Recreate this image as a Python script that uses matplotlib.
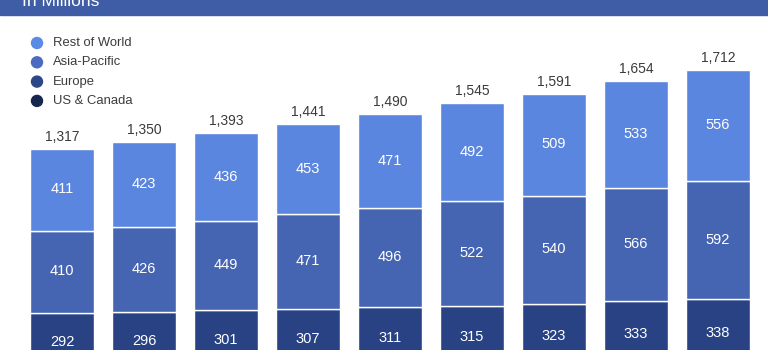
import matplotlib
matplotlib.use('Agg')
import matplotlib.pyplot as pyplot
from matplotlib.patches import Rectangle, Ellipse

pyplot.rcParams['font.family'] = ['Liberation Sans', 'DejaVu Sans']

# ------------------------------------------------------------------------------
# Data (monthly active users, in millions)
#
quarters = ['Q2\'14', 'Q3\'14', 'Q4\'14', 'Q1\'15', 'Q2\'15',
            'Q3\'15', 'Q4\'15', 'Q1\'16', 'Q2\'16']
us_canada = [204, 205, 207, 210, 212, 216, 219, 222, 226]
europe = [292, 296, 301, 307, 311, 315, 323, 333, 338]
asia_pacific = [410, 426, 449, 471, 496, 522, 540, 566, 592]
rest_of_world = [411, 423, 436, 453, 471, 492, 509, 533, 556]
totals = [1317, 1350, 1393, 1441, 1490, 1545, 1591, 1654, 1712]

series_names = ['Rest of World', 'Asia-Pacific', 'Europe', 'US & Canada']
bar_colors = ['#5b86e0', '#4565b3', '#284284', '#1b2b5b']
legend_colors = ['#5a8ae6', '#4b6ac0', '#2b4788', '#17264f']

y_bottom = 310        # value at the lower edge of the (cropped) picture
figure = pyplot.figure(figsize=(7.68, 3.5), dpi=100)
axes = figure.add_axes([0, 0, 1, 1])
axes.set_xlim(-0.756, 8.61)
axes.set_ylim(y_bottom, 2060)
axes.axis('off')

# ------------------------------------------------------------------------------
# Stacked bars
#
positions = list(range(len(quarters)))
stack = [us_canada, europe, asia_pacific, rest_of_world]
stack_colors = [bar_colors[3], bar_colors[2], bar_colors[1], bar_colors[0]]
bottoms = [0] * len(quarters)
for values, color in zip(stack, stack_colors):
    axes.bar(positions, values, bottom=bottoms, width=0.78, color=color,
             edgecolor='white', linewidth=1.0)
    for index, value in enumerate(values):
        label_y = max(bottoms[index] + value / 2 + 2, y_bottom + 42)
        if label_y > bottoms[index] + value:
            continue
        axes.text(positions[index], label_y, str(value),
                  ha='center', va='center', color='white', fontsize=10.5)
    bottoms = [b + v for b, v in zip(bottoms, values)]

for index, total in enumerate(totals):
    axes.text(positions[index], total + 40, '{:,}'.format(total),
              ha='center', va='baseline', color='#3a3a3a', fontsize=10)

# ------------------------------------------------------------------------------
# Banner
#
figure.patches.append(Rectangle((0, 1 - 15 / 350), 1, 15 / 350,
                                transform=figure.transFigure,
                                color='#3f5ca6', zorder=5))
figure.text(22 / 768, 1 - 6 / 350, 'In Millions', color='white',
            fontsize=12.6, va='baseline', ha='left', zorder=6)

# ------------------------------------------------------------------------------
# Legend
#
for index, (name, color) in enumerate(zip(series_names, legend_colors)):
    y_pixel = 43 + index * 19.3
    figure.patches.append(Ellipse((37 / 768, 1 - y_pixel / 350),
                                  11 / 768, 11 / 350,
                                  transform=figure.transFigure,
                                  color=color))
    figure.text(53 / 768, 1 - y_pixel / 350, name, color='#3c3c3c',
                fontsize=9.4, va='center', ha='left')

pyplot.savefig('out.png', dpi=100)
